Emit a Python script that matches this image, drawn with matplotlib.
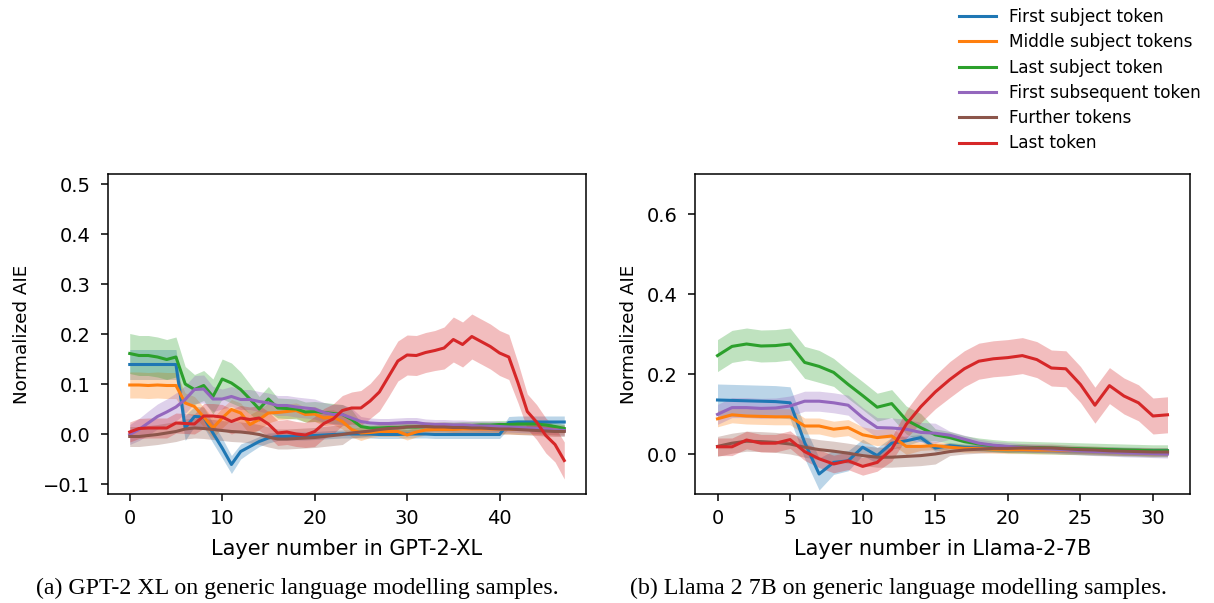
import numpy as np
import matplotlib
matplotlib.use("Agg")
import matplotlib.pyplot as plt

labels = ["First subject token", "Middle subject tokens", "Last subject token",
          "First subsequent token", "Further tokens", "Last token"]
colors = ["#1f77b4", "#ff7f0e", "#2ca02c", "#9467bd", "#8c564b", "#d62728"]

# ---------------- GPT-2 XL (48 layers) ----------------
gpt_layers = list(range(48))
gpt_first = [0.139, 0.139, 0.139, 0.139, 0.139, 0.139, 0.012, 0.035, 0.034, 0.002,
             -0.028, -0.061, -0.035, -0.025, -0.015, -0.008, -0.005, -0.005, -0.004, -0.004,
             -0.003, -0.002, -0.001, 0.000, 0.000, 0.000, 0.000, -0.001, -0.001, -0.001,
             0.000, 0.000, 0.000, -0.001, -0.001, -0.001, -0.001, -0.001, -0.001, -0.001,
             -0.001, 0.023, 0.024, 0.024, 0.024, 0.024, 0.024, 0.024]
gpt_middle = [0.098, 0.098, 0.097, 0.098, 0.097, 0.097, 0.062, 0.055, 0.034, 0.012,
              0.032, 0.049, 0.042, 0.019, 0.029, 0.042, 0.043, 0.045, 0.047, 0.039,
              0.040, 0.032, 0.034, 0.025, 0.009, 0.002, 0.003, 0.005, 0.005, 0.005,
              -0.002, 0.004, 0.008, 0.009, 0.009, 0.009, 0.010, 0.010, 0.010, 0.010,
              0.010, 0.010, 0.009, 0.009, 0.009, 0.008, 0.008, 0.008]
gpt_last_subj = [0.161, 0.157, 0.157, 0.154, 0.149, 0.154, 0.100, 0.089, 0.097, 0.075,
                 0.110, 0.102, 0.089, 0.070, 0.050, 0.070, 0.052, 0.051, 0.050, 0.044,
                 0.045, 0.043, 0.041, 0.039, 0.029, 0.015, 0.012, 0.012, 0.013, 0.013,
                 0.014, 0.014, 0.015, 0.015, 0.016, 0.016, 0.017, 0.017, 0.018, 0.018,
                 0.019, 0.019, 0.020, 0.020, 0.020, 0.018, 0.015, 0.011]
gpt_first_subseq = [-0.001, 0.009, 0.022, 0.035, 0.044, 0.054, 0.069, 0.089, 0.090, 0.070,
                    0.070, 0.075, 0.069, 0.069, 0.065, 0.062, 0.057, 0.057, 0.054, 0.052,
                    0.050, 0.043, 0.039, 0.039, 0.032, 0.025, 0.022, 0.021, 0.021, 0.022,
                    0.023, 0.023, 0.020, 0.019, 0.019, 0.018, 0.018, 0.017, 0.016, 0.016,
                    0.015, 0.014, 0.013, 0.012, 0.011, 0.010, 0.008, 0.007]
gpt_further = [-0.005, -0.005, -0.003, -0.001, 0.002, 0.005, 0.010, 0.012, 0.011, 0.009,
               0.007, 0.005, 0.004, 0.002, -0.001, -0.006, -0.010, -0.010, -0.009, -0.008,
               -0.007, -0.005, -0.003, -0.001, 0.002, 0.004, 0.006, 0.009, 0.011, 0.012,
               0.014, 0.015, 0.015, 0.014, 0.014, 0.013, 0.013, 0.012, 0.012, 0.011,
               0.010, 0.010, 0.009, 0.008, 0.007, 0.006, 0.005, 0.005]
gpt_last = [0.004, 0.011, 0.012, 0.012, 0.012, 0.022, 0.021, 0.020, 0.036, 0.036,
            0.034, 0.025, 0.032, 0.029, 0.032, 0.020, 0.002, 0.004, 0.000, -0.002,
            0.005, 0.021, 0.030, 0.047, 0.052, 0.052, 0.066, 0.084, 0.115, 0.146,
            0.158, 0.157, 0.163, 0.167, 0.172, 0.189, 0.179, 0.195, 0.185, 0.175,
            0.162, 0.154, 0.102, 0.045, 0.024, -0.003, -0.021, -0.053]

gpt_first_err = [0.030] * 6 + [0.025, 0.02, 0.02, 0.02, 0.02, 0.018, 0.015, 0.012, 0.01, 0.01] + [0.008] * 25 + [0.012] * 7
gpt_middle_err = [0.026] * 6 + [0.02] * 10 + [0.015] * 10 + [0.01] * 22
gpt_last_subj_err = [0.04] * 6 + [0.035, 0.03, 0.03, 0.035, 0.04, 0.04, 0.035, 0.03, 0.025, 0.025] + [0.02] * 9 + [0.008] * 23
gpt_first_subseq_err = [0.02, 0.022, 0.024, 0.025, 0.026, 0.028, 0.028, 0.028, 0.028, 0.025] + [0.02] * 15 + [0.01] * 23
gpt_further_err = [0.02] * 24 + [0.01] * 24
gpt_last_err = [0.02] * 8 + [0.025] * 12 + [0.03, 0.03, 0.03, 0.03, 0.032, 0.035, 0.035, 0.038, 0.04, 0.04,
                                           0.04, 0.04, 0.04, 0.04, 0.042, 0.045, 0.045, 0.045, 0.045, 0.045,
                                           0.045, 0.045, 0.04, 0.035, 0.035, 0.035, 0.035, 0.037]

# ---------------- Llama 2 7B (32 layers) ----------------
llama_layers = list(range(32))
llama_first = [0.135, 0.134, 0.133, 0.132, 0.131, 0.128, 0.029, -0.050, -0.021, -0.017,
               0.017, -0.004, 0.027, 0.033, 0.041, 0.015, 0.021, 0.017, 0.015, 0.014,
               0.013, 0.013, 0.012, 0.012, 0.011, 0.011, 0.010, 0.010, 0.009, 0.009,
               0.008, 0.008]
llama_middle = [0.088, 0.098, 0.095, 0.094, 0.093, 0.093, 0.070, 0.070, 0.062, 0.066,
                0.048, 0.041, 0.045, 0.019, 0.019, 0.021, 0.017, 0.014, 0.014, 0.012,
                0.011, 0.011, 0.010, 0.010, 0.009, 0.009, 0.008, 0.007, 0.006, 0.006,
                0.005, 0.005]
llama_last_subj = [0.246, 0.269, 0.275, 0.270, 0.271, 0.275, 0.229, 0.219, 0.204, 0.174,
                   0.146, 0.117, 0.126, 0.085, 0.066, 0.048, 0.041, 0.031, 0.025, 0.021,
                   0.018, 0.017, 0.016, 0.015, 0.014, 0.013, 0.012, 0.011, 0.010, 0.009,
                   0.008, 0.008]
llama_first_subseq = [0.099, 0.116, 0.116, 0.114, 0.115, 0.120, 0.132, 0.132, 0.128, 0.122,
                      0.091, 0.066, 0.065, 0.062, 0.054, 0.052, 0.047, 0.037, 0.027, 0.022,
                      0.019, 0.016, 0.014, 0.012, 0.010, 0.008, 0.006, 0.005, 0.003, 0.002,
                      0.001, 0.000]
llama_further = [0.019, 0.027, 0.032, 0.031, 0.029, 0.025, 0.017, 0.011, 0.007, 0.002,
                 -0.004, -0.008, -0.008, -0.006, -0.004, 0.000, 0.006, 0.010, 0.012, 0.014,
                 0.014, 0.015, 0.015, 0.015, 0.013, 0.011, 0.010, 0.008, 0.007, 0.006,
                 0.005, 0.005]
llama_last = [0.018, 0.018, 0.035, 0.027, 0.027, 0.036, 0.006, -0.012, -0.025, -0.017,
              -0.031, -0.021, 0.012, 0.074, 0.118, 0.155, 0.186, 0.213, 0.232, 0.238,
              0.241, 0.246, 0.236, 0.215, 0.213, 0.174, 0.122, 0.171, 0.145, 0.128,
              0.095, 0.098]

llama_first_err = [0.04] * 6 + [0.04, 0.04, 0.03, 0.025, 0.02, 0.02, 0.015, 0.012] + [0.008] * 18
llama_middle_err = [0.02] * 14 + [0.01] * 18
llama_last_subj_err = [0.04] * 8 + [0.035] * 7 + [0.015] * 17
llama_first_subseq_err = [0.025] * 16 + [0.01] * 16
llama_further_err = [0.025] * 16 + [0.01] * 16
llama_last_err = [0.022] * 12 + [0.03, 0.035, 0.04, 0.042] + [0.045] * 16

gpt_series = [gpt_first, gpt_middle, gpt_last_subj, gpt_first_subseq, gpt_further, gpt_last]
gpt_errs = [gpt_first_err, gpt_middle_err, gpt_last_subj_err, gpt_first_subseq_err, gpt_further_err, gpt_last_err]
llama_series = [llama_first, llama_middle, llama_last_subj, llama_first_subseq, llama_further, llama_last]
llama_errs = [llama_first_err, llama_middle_err, llama_last_subj_err, llama_first_subseq_err, llama_further_err, llama_last_err]

plt.rcParams.update({
    "font.family": "DejaVu Sans",
    "font.size": 14,
    "axes.linewidth": 1.1,
    "xtick.major.width": 1.1,
    "ytick.major.width": 1.1,
    "xtick.major.size": 5.2,
    "ytick.major.size": 5.2,
    "xtick.major.pad": 5.5,
    "ytick.major.pad": 7.5,
    "xtick.labelsize": 14,
    "ytick.labelsize": 14,
})

W, H = 1214, 603
fig = plt.figure(figsize=(W / 100, H / 100), dpi=100)

ax1 = fig.add_axes([108 / W, (H - 494) / H, 478 / W, 320 / H])
ax2 = fig.add_axes([695 / W, (H - 494) / H, 495 / W, 320 / H])

handles = []
for ax, xs, series, errs in [(ax1, gpt_layers, gpt_series, gpt_errs),
                              (ax2, llama_layers, llama_series, llama_errs)]:
    xs = np.array(xs)
    for s, e, c, lab in zip(series, errs, colors, labels):
        s = np.array(s)
        e = np.array(e)
        ax.fill_between(xs, s - e, s + e, color=c, alpha=0.3, linewidth=0)
        ln, = ax.plot(xs, s, color=c, lw=2.2, label=lab)
        if ax is ax1:
            handles.append(ln)
    ax.set_ylabel("Normalized AIE", fontsize=13.2)

ax1.set_ylim(-0.12, 0.52)
ax1.set_yticks([-0.1, 0.0, 0.1, 0.2, 0.3, 0.4, 0.5])
ax1.set_xticks([0, 10, 20, 30, 40])
ax1.set_xlabel("Layer number in GPT-2-XL", fontsize=15)
ax1.yaxis.set_label_coords((31 - 108) / 478, 0.5)
ax1.xaxis.set_label_coords(0.5, (494 - 539) / 320)

ax2.set_ylim(-0.1, 0.7)
ax2.set_yticks([0.0, 0.2, 0.4, 0.6])
ax2.set_xticks([0, 5, 10, 15, 20, 25, 30])
ax2.set_xlabel("Layer number in Llama-2-7B", fontsize=15)
ax2.yaxis.set_label_coords((638 - 695) / 495, 0.5)
ax2.xaxis.set_label_coords(0.5, (494 - 539) / 320)

fig.legend(handles=handles, labels=labels, loc="upper left",
           bbox_to_anchor=(959 / W, 1 - 8 / H), frameon=False,
           fontsize=12.2, handlelength=2.2, handletextpad=0.75, labelspacing=0.43,
           borderaxespad=0, borderpad=0.0)

cap_font = dict(family=["Liberation Serif", "DejaVu Serif"], fontsize=17.2)
fig.text(297 / W, 1 - 588 / H, "(a) GPT-2 XL on generic language modelling samples.",
         ha="center", va="center", **cap_font)
fig.text(898 / W, 1 - 588 / H, "(b) Llama 2 7B on generic language modelling samples.",
         ha="center", va="center", **cap_font)

fig.savefig("out.png", dpi=100)
